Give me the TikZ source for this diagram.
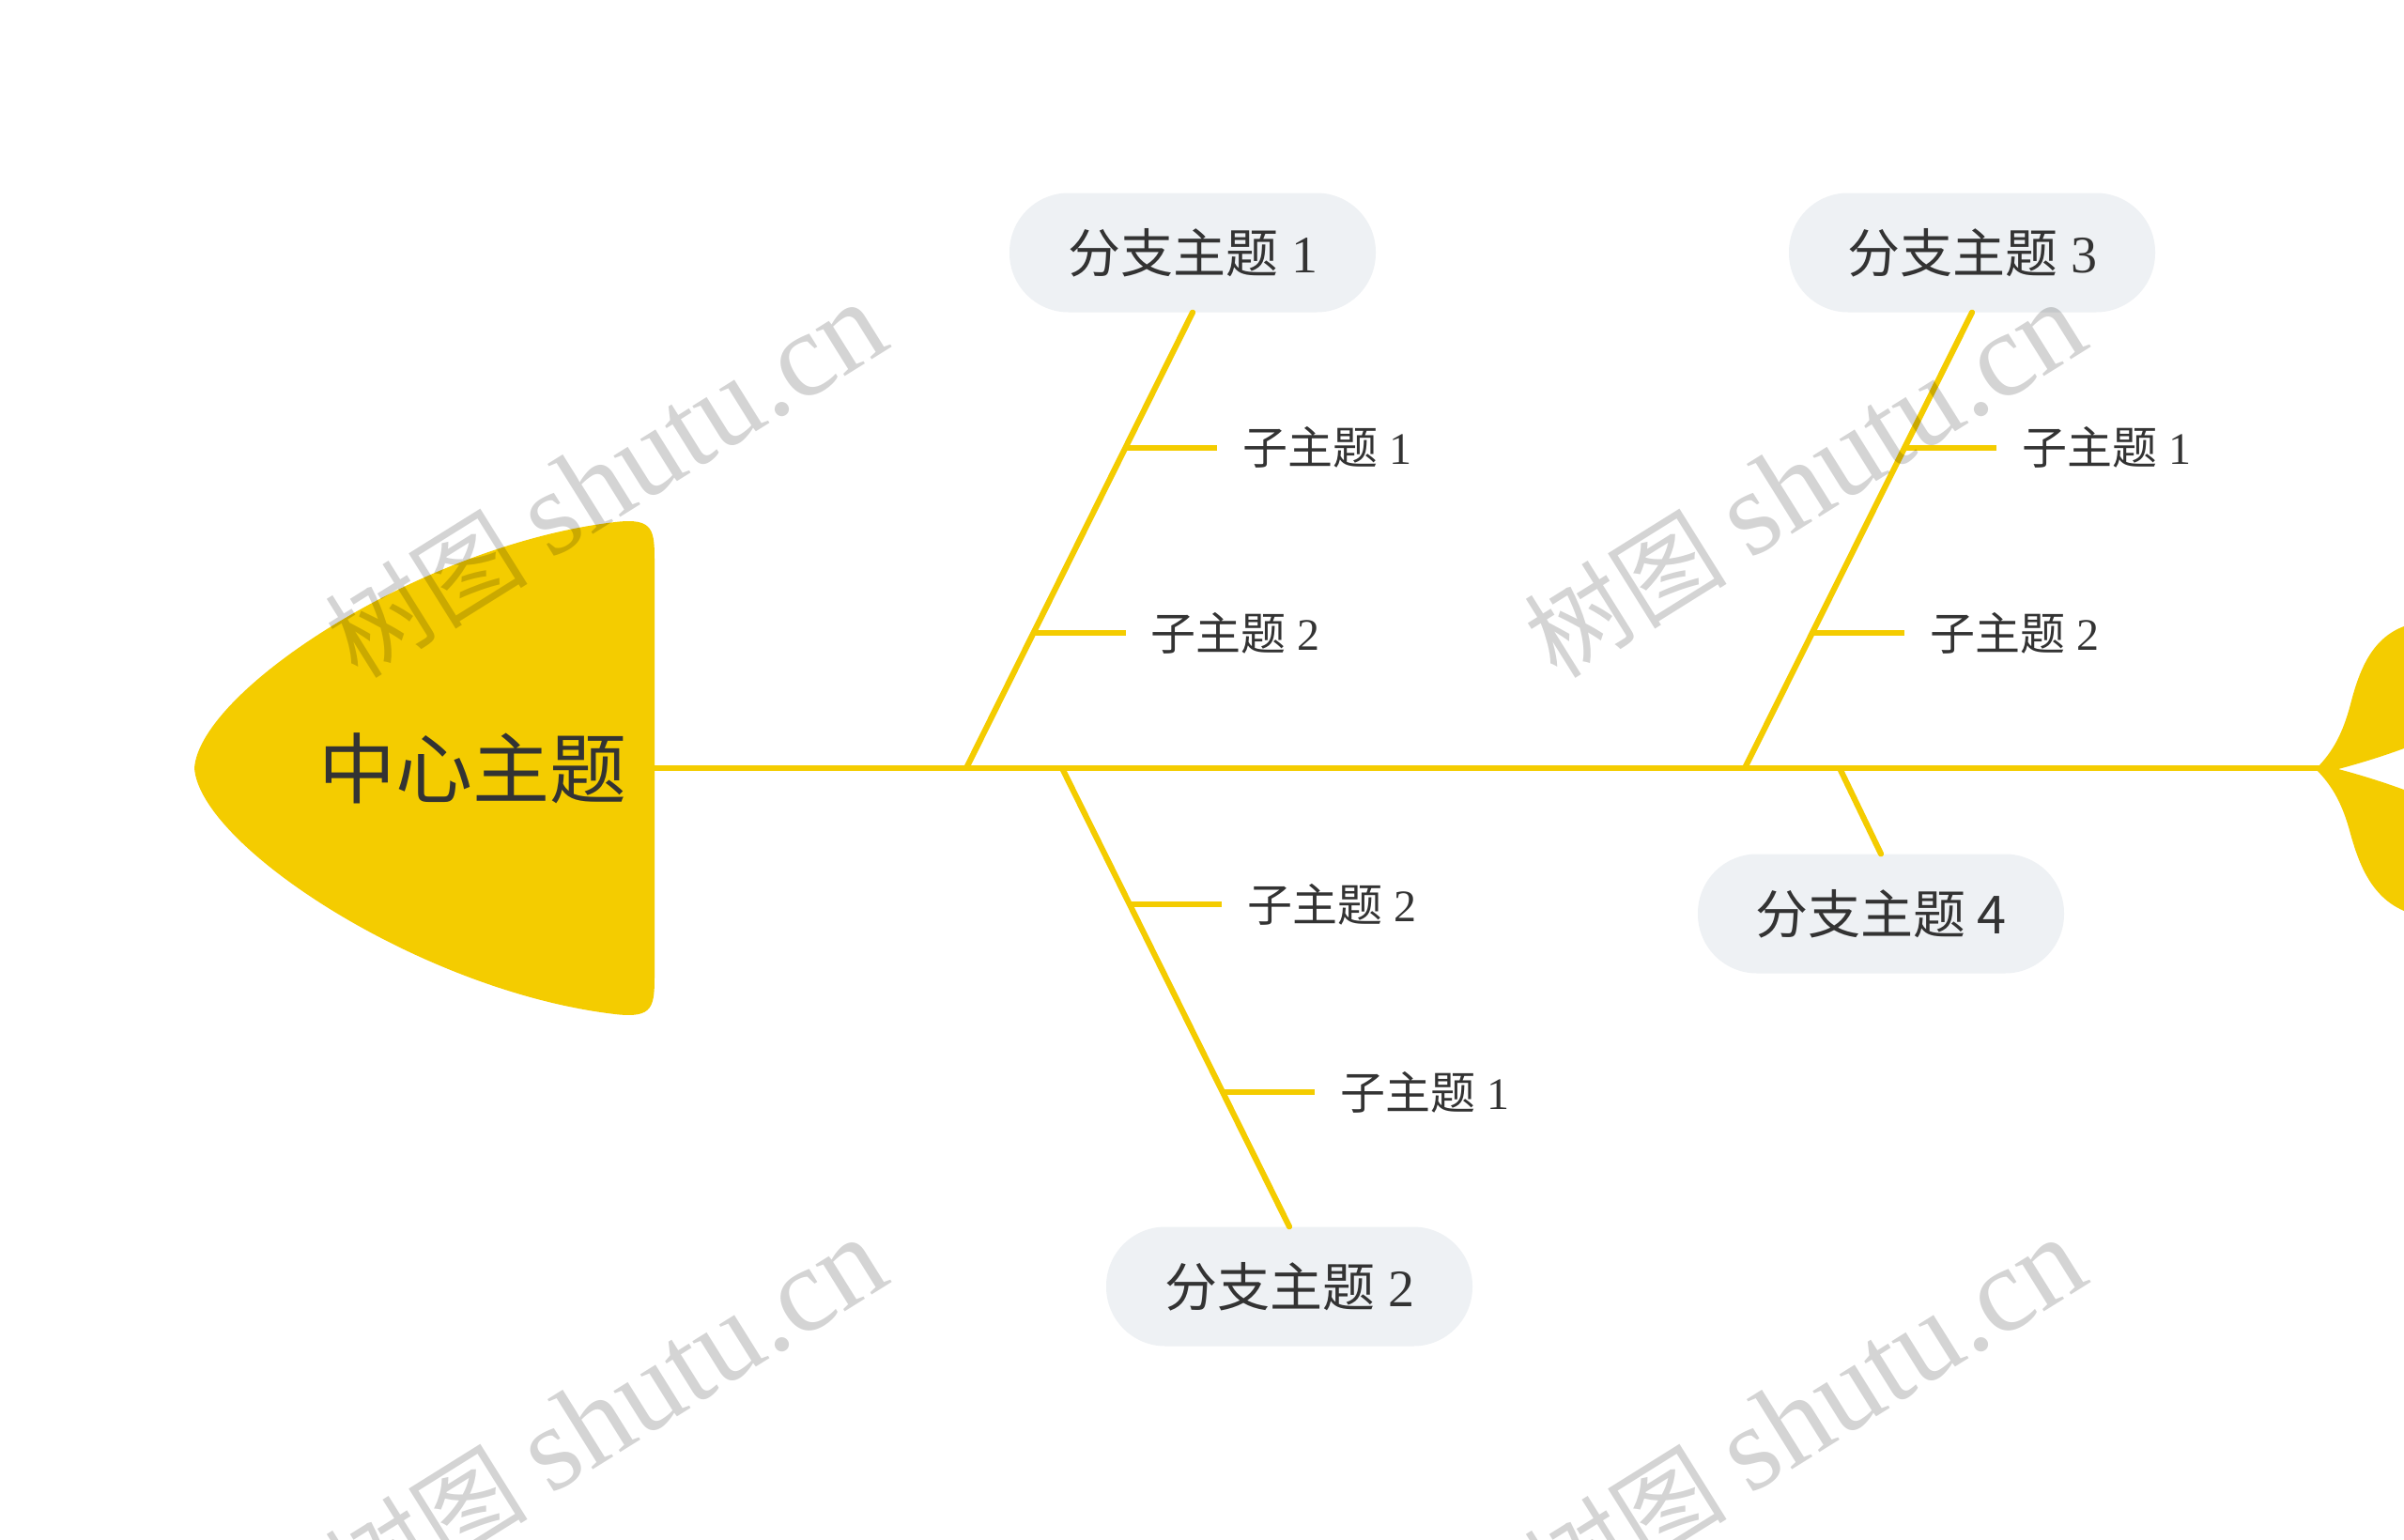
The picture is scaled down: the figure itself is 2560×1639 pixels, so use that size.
\documentclass[tikz,border=0pt]{standalone}
\usepackage{fontspec}
\setmainfont{Liberation Serif}
\newfontfamily\cjk{Noto Sans CJK SC}
\usetikzlibrary{calc}
\definecolor{fishyellow}{HTML}{F4CC00}
\definecolor{boxgray}{HTML}{EEF1F4}
\definecolor{txt}{HTML}{333333}
\tikzset{
  bone/.style={draw=fishyellow, line width=6.2pt, line cap=round},
  branchbox/.style={fill=boxgray, rounded corners=63pt, minimum width=390pt, minimum height=127pt, inner sep=0pt, text=txt, font=\fontsize{56}{60}\selectfont},
  sublabel/.style={anchor=west, inner xsep=27pt, inner ysep=0pt, text=txt, font=\fontsize{48}{52}\selectfont},
  wm/.style={text=black, opacity=0.17, rotate=32, inner sep=0pt},
}
\begin{document}
\begin{tikzpicture}[x=1pt, y=-1pt]
\useasboundingbox (0,0) rectangle (2560,1639);
\fill[white] (0,0) rectangle (2560,1639);
% head
\fill[fishyellow] (207,818) .. controls (213,735) and (450,580) .. (655,556)
  .. controls (697,551) and (697,565) .. (697,600) -- (697,1036)
  .. controls (697,1071) and (697,1085) .. (655,1080)
  .. controls (450,1056) and (213,901) .. (207,818) -- cycle;
\node[text=txt, font=\fontsize{82}{86}\selectfont\cjk, inner sep=0pt] (center) at (503,818) {中心主题};
\coordinate (headR) at (690,818);
% tail
\fill[fishyellow] (2466,819) .. controls (2485,800) and (2495,780) .. (2503,750)
  .. controls (2512,715) and (2525,680) .. (2560,667) -- (2560,797)
  .. controls (2530,808) and (2505,815) .. (2490,819)
  .. controls (2505,823) and (2530,830) .. (2560,841) -- (2560,970)
  .. controls (2525,955) and (2512,920) .. (2503,888)
  .. controls (2495,858) and (2485,838) .. (2466,819) -- cycle;
\coordinate (tail) at (2470,818);
\draw[bone, line cap=butt] (headR) -- (tail);
% branch boxes
\node[branchbox] (b1) at (1270,269) {{\cjk 分支主题} 1};
\node[branchbox] (b3) at (2100,269) {{\cjk 分支主题} 3};
\node[branchbox] (b2) at (1373,1370) {{\cjk 分支主题} 2};
\node[branchbox] (b4) at (2003,973) {{\cjk 分支主题 4}};
% spine junctions
\coordinate (j1) at (1029,818);
\coordinate (j2) at (1131,818);
\coordinate (j3) at (1858,818);
\coordinate (j4) at (1959,818);
\draw[bone] (j1) -- (b1.south) coordinate[pos=0.703] (c11) coordinate[pos=0.297] (c12);
\draw[bone] (j3) -- (b3.south) coordinate[pos=0.703] (c31) coordinate[pos=0.297] (c32);
\draw[bone] (j2) -- (b2.north) coordinate[pos=0.297] (c22) coordinate[pos=0.707] (c21);
\draw[bone] (j4) -- (b4.north);
% sub labels
\node[sublabel] (s11) at ($(c11)+(98,0)$) {{\cjk 子主题} 1};
\node[sublabel] (s12) at ($(c12)+(98,0)$) {{\cjk 子主题} 2};
\node[sublabel] (s31) at ($(c31)+(98,0)$) {{\cjk 子主题} 1};
\node[sublabel] (s32) at ($(c32)+(98,0)$) {{\cjk 子主题} 2};
\node[sublabel] (s22) at ($(c22)+(98,0)$) {{\cjk 子主题} 2};
\node[sublabel] (s21) at ($(c21)+(98,0)$) {{\cjk 子主题} 1};
\foreach \c/\s in {c11/s11, c12/s12, c31/s31, c32/s32, c22/s22, c21/s21}
  \draw[bone, line cap=butt] (\c) -- (\s.west);
% watermarks
\foreach \p [count=\i] in {(645,512), (1922,512), (645,1508), (1922,1508)}
  \node[wm] (wm\i) at \p {{\fontsize{108}{112}\selectfont\cjk 树图}\hspace{26pt}{\fontsize{128}{132}\selectfont shutu.cn}};
\end{tikzpicture}
\end{document}
